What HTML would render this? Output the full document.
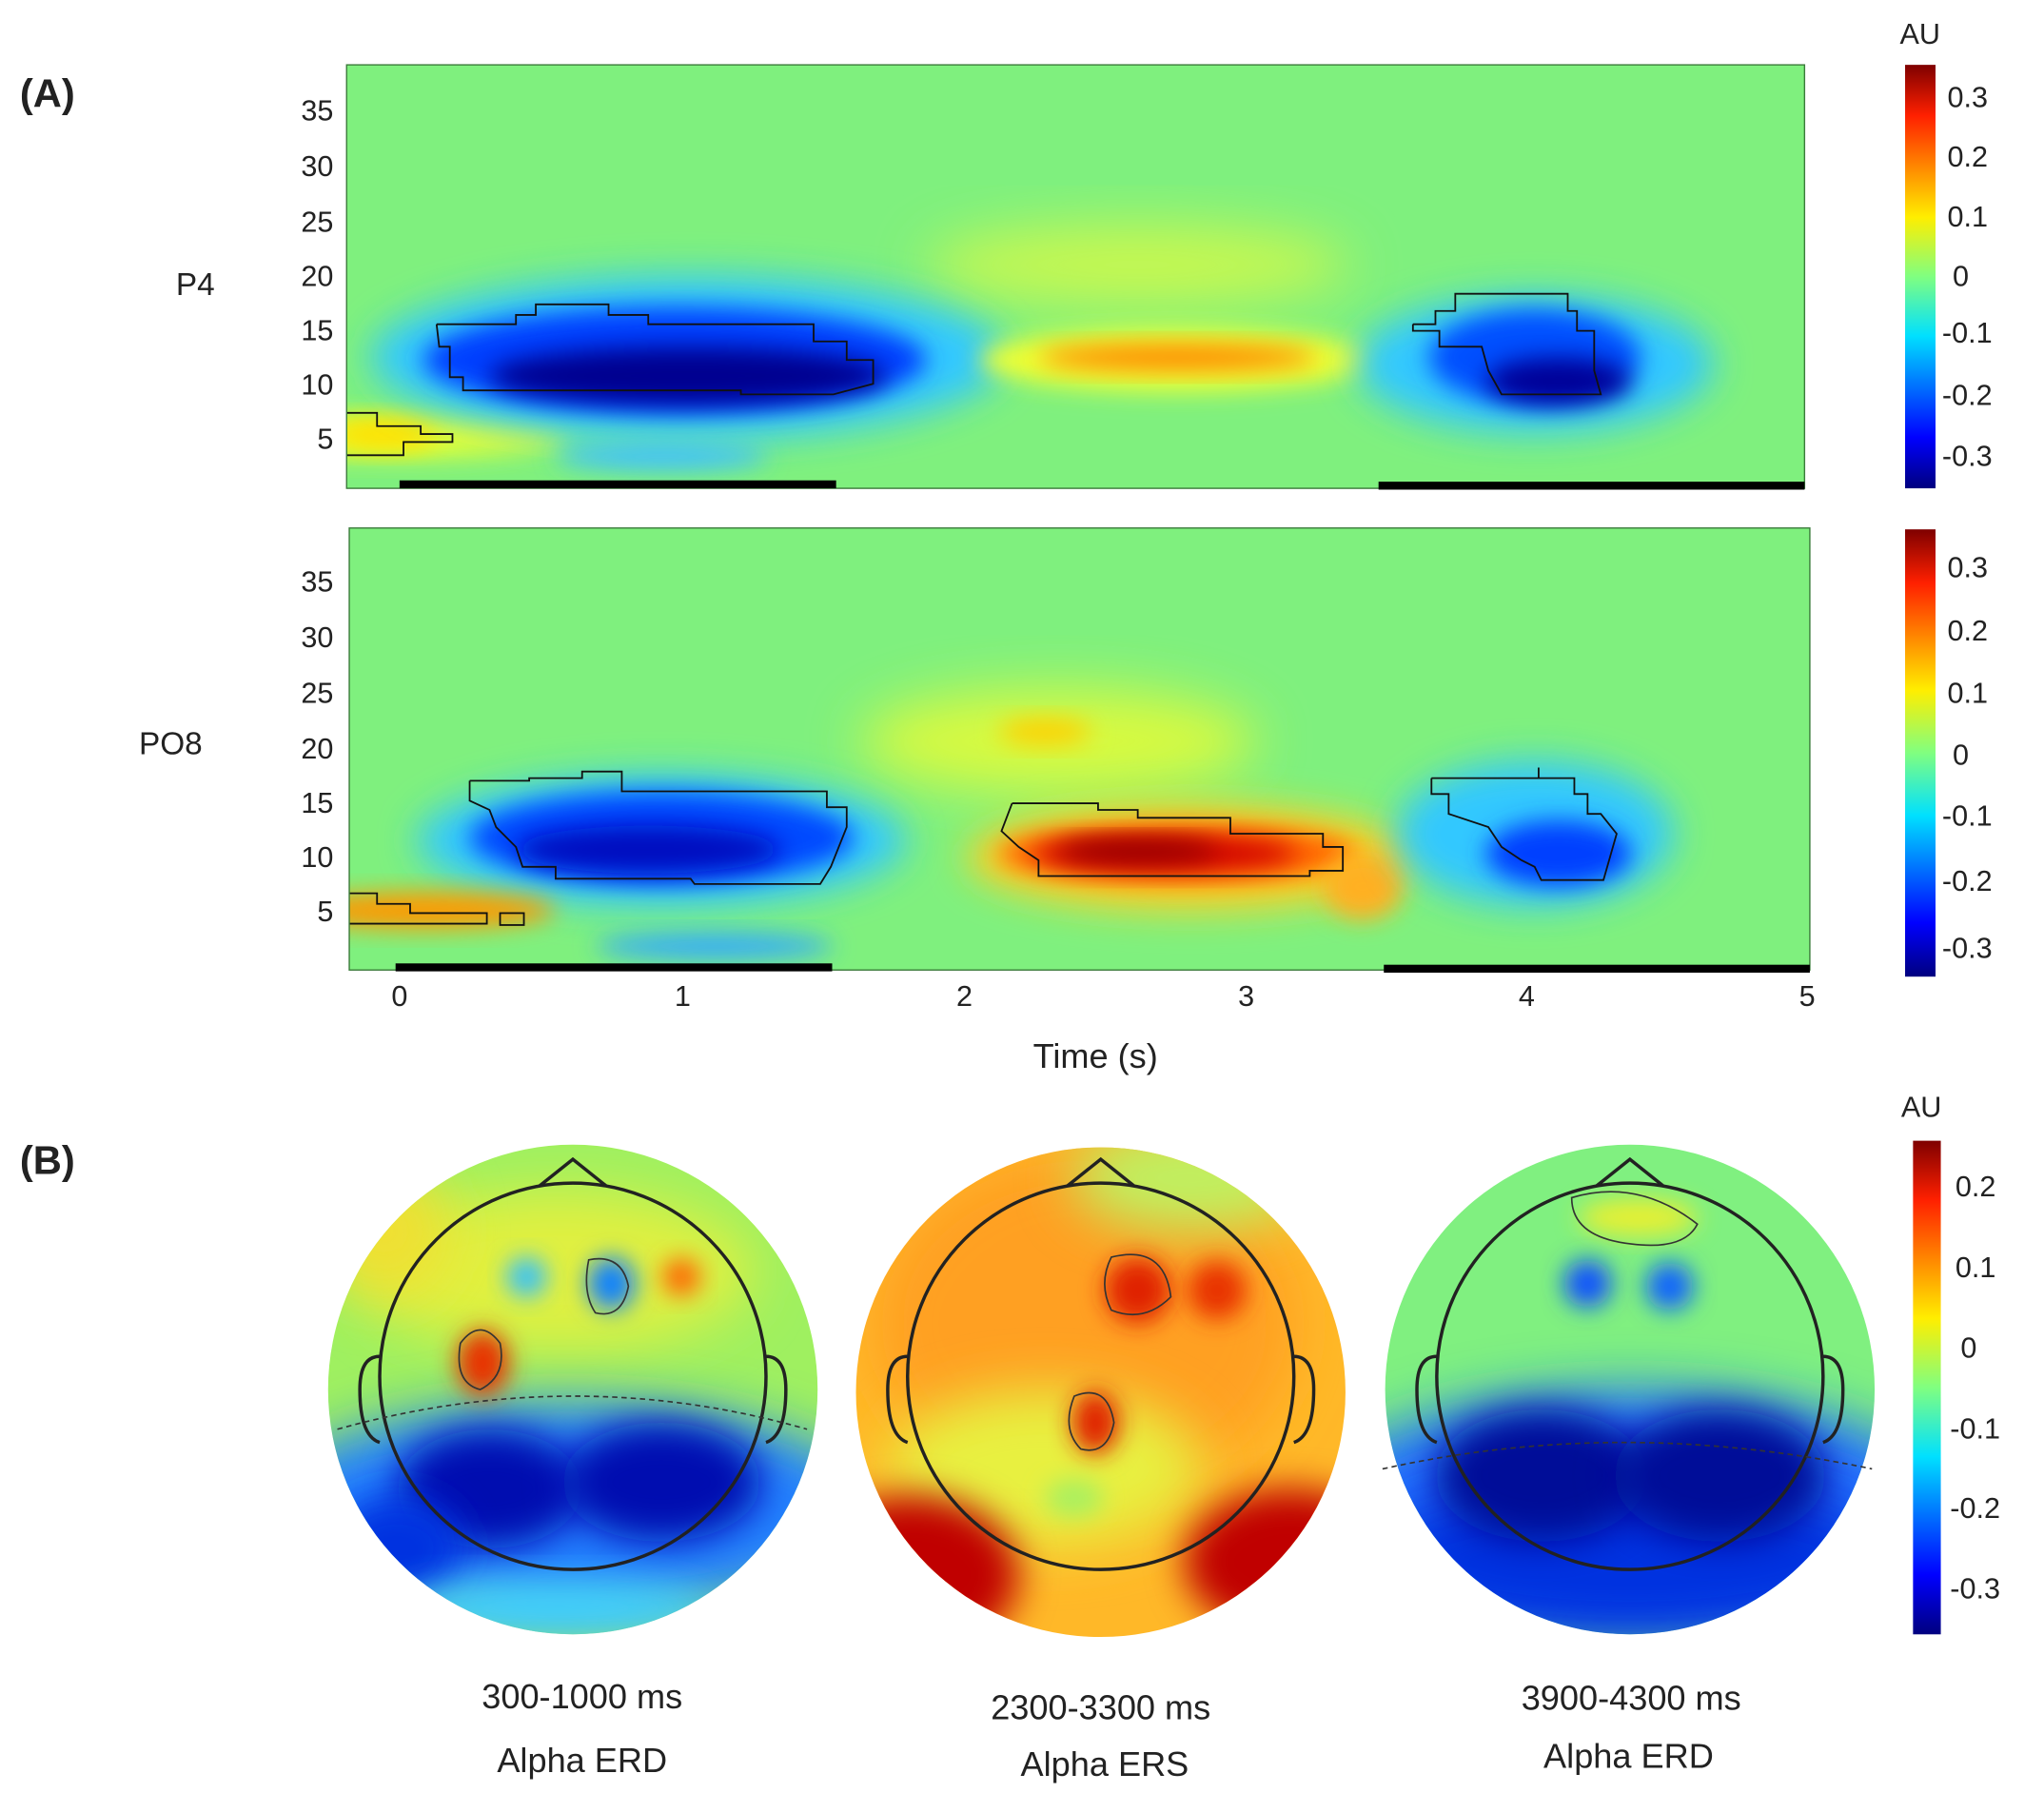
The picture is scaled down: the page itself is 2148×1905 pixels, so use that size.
<!DOCTYPE html>
<html><head><meta charset="utf-8"><style>
html,body{margin:0;padding:0;background:#fff;}
svg{display:block;}
text{font-family:"Liberation Sans",sans-serif;fill:#222;}
</style></head><body>
<svg width="2148" height="1905" viewBox="0 0 1545 1370" preserveAspectRatio="none" xmlns="http://www.w3.org/2000/svg">
<defs>
<filter id="b1" x="-50%" y="-50%" width="200%" height="200%"><feGaussianBlur stdDeviation="14"/></filter>
<filter id="b2" x="-50%" y="-50%" width="200%" height="200%"><feGaussianBlur stdDeviation="9"/></filter>
<filter id="b3" x="-50%" y="-50%" width="200%" height="200%"><feGaussianBlur stdDeviation="20"/></filter>
<clipPath id="c1"><rect x="262" y="49" width="1102" height="320"/></clipPath>
<clipPath id="c2"><rect x="264" y="399" width="1104" height="334"/></clipPath>
<clipPath id="h1"><circle cx="433" cy="1050" r="185"/></clipPath>
<clipPath id="h2"><circle cx="832" cy="1052" r="185"/></clipPath>
<clipPath id="h3"><circle cx="1232" cy="1050" r="185"/></clipPath>
<linearGradient id="jet" x1="0" y1="1" x2="0" y2="0">
<stop offset="0" stop-color="#00007f"/><stop offset="0.12" stop-color="#0000ff"/><stop offset="0.36" stop-color="#00e0ff"/><stop offset="0.5" stop-color="#80ff80"/><stop offset="0.64" stop-color="#ffee00"/><stop offset="0.88" stop-color="#ff2000"/><stop offset="1" stop-color="#7f0000"/>
</linearGradient>
</defs>

<text x="15" y="81" font-size="30" font-weight="bold">(A)</text>
<text x="15" y="887" font-size="30" font-weight="bold">(B)</text>

<!-- Top heatmap P4 -->
<g clip-path="url(#c1)">
<rect x="262" y="49" width="1102" height="320" fill="#7ff07e"/>
<ellipse cx="860" cy="200" rx="160" ry="30" fill="#c8f850" filter="url(#b3)"/>
<ellipse cx="300" cy="330" rx="130" ry="16" fill="#e8ff30" filter="url(#b2)"/>
<ellipse cx="290" cy="328" rx="40" ry="12" fill="#ffe000" filter="url(#b2)"/>
<ellipse cx="520" cy="270" rx="240" ry="62" fill="#30c8ff" filter="url(#b1)"/>
<ellipse cx="510" cy="272" rx="190" ry="40" fill="#0040ff" filter="url(#b2)"/>
<ellipse cx="520" cy="284" rx="150" ry="22" fill="#000090" filter="url(#b2)"/>
<ellipse cx="500" cy="345" rx="80" ry="10" fill="#40c0ff" filter="url(#b2)"/>
<ellipse cx="890" cy="272" rx="150" ry="24" fill="#f0ff30" filter="url(#b2)"/>
<ellipse cx="890" cy="270" rx="105" ry="10" fill="#ff8800" filter="url(#b2)"/>
<ellipse cx="1160" cy="275" rx="135" ry="52" fill="#30c8ff" filter="url(#b1)"/>
<ellipse cx="1160" cy="270" rx="80" ry="36" fill="#0050ff" filter="url(#b2)"/>
<ellipse cx="1178" cy="288" rx="55" ry="18" fill="#000098" filter="url(#b2)"/>
<polyline fill="none" stroke="#111" stroke-width="1.3" points="330,245 390,245 390,238 405,238 405,230 460,230 460,238 490,238 490,245 615,245 615,258 640,258 640,272 660,272 660,290 630,298 560,298 560,295 350,295 350,285 340,285 340,262 332,262 330,245"/>
<polyline fill="none" stroke="#111" stroke-width="1.3" points="1068,245 1085,245 1085,235 1100,235 1100,222 1185,222 1185,235 1192,235 1192,250 1205,250 1205,280 1210,298 1135,298 1125,280 1120,262 1088,262 1088,250 1068,250 1068,245"/>
<polyline fill="none" stroke="#111" stroke-width="1.3" points="262,312 285,312 285,322 318,322 318,328 342,328 342,334 305,334 305,344 262,344"/>
</g>
<rect x="262" y="49" width="1102" height="320" fill="none" stroke="#3a7a3a" stroke-width="1"/>
<rect x="302" y="363" width="330" height="6" fill="#000"/>
<rect x="1042" y="364" width="322" height="6" fill="#000"/>

<g font-size="22" text-anchor="end">
<text x="252" y="91">35</text><text x="252" y="133">30</text><text x="252" y="175">25</text><text x="252" y="216">20</text><text x="252" y="257">15</text><text x="252" y="298">10</text><text x="252" y="339">5</text>
<text x="252" y="447">35</text><text x="252" y="489">30</text><text x="252" y="531">25</text><text x="252" y="573">20</text><text x="252" y="614">15</text><text x="252" y="655">10</text><text x="252" y="696">5</text>
</g>
<text x="133" y="223" font-size="24">P4</text>
<text x="105" y="570" font-size="24">PO8</text>

<!-- Bottom heatmap PO8 -->
<g clip-path="url(#c2)">
<rect x="264" y="399" width="1104" height="334" fill="#7ff07e"/>
<ellipse cx="800" cy="560" rx="150" ry="40" fill="#d8fa40" filter="url(#b3)"/>
<ellipse cx="790" cy="553" rx="35" ry="10" fill="#ffd000" filter="url(#b2)"/>
<ellipse cx="500" cy="635" rx="185" ry="50" fill="#30c8ff" filter="url(#b1)"/>
<ellipse cx="500" cy="633" rx="145" ry="35" fill="#0048ff" filter="url(#b2)"/>
<ellipse cx="490" cy="642" rx="100" ry="18" fill="#0010c0" filter="url(#b2)"/>
<ellipse cx="900" cy="648" rx="170" ry="40" fill="#ffd020" filter="url(#b1)"/>
<ellipse cx="890" cy="645" rx="135" ry="22" fill="#ff6000" filter="url(#b2)"/>
<ellipse cx="880" cy="645" rx="100" ry="13" fill="#d00000" filter="url(#b2)"/>
<ellipse cx="860" cy="643" rx="60" ry="9" fill="#950000" filter="url(#b2)"/>
<ellipse cx="1030" cy="670" rx="30" ry="25" fill="#ffb020" filter="url(#b2)"/>
<ellipse cx="1160" cy="630" rx="105" ry="55" fill="#30c8ff" filter="url(#b1)"/>
<ellipse cx="1178" cy="645" rx="55" ry="25" fill="#0040ff" filter="url(#b2)"/>
<ellipse cx="320" cy="688" rx="100" ry="14" fill="#ff9900" filter="url(#b2)"/>
<ellipse cx="540" cy="715" rx="90" ry="10" fill="#30a8ff" filter="url(#b2)"/>
<polyline fill="none" stroke="#111" stroke-width="1.3" points="355,590 400,590 400,588 440,588 440,583 470,583 470,598 625,598 625,610 640,610 640,625 628,655 620,668 525,668 522,664 420,664 420,655 395,655 390,640 375,625 370,612 355,605 355,590"/>
<polyline fill="none" stroke="#111" stroke-width="1.3" points="765,607 830,607 830,612 860,612 860,618 930,618 930,630 1000,630 1000,640 1015,640 1015,658 990,658 990,662 785,662 785,650 770,640 757,628 765,607"/>
<polyline fill="none" stroke="#111" stroke-width="1.3" points="1082,588 1163,588 1163,580 1163,588 1190,588 1190,600 1200,600 1200,615 1210,615 1222,630 1212,665 1165,665 1160,655 1150,650 1135,640 1125,625 1095,615 1095,600 1082,600 1082,588"/>
<polyline fill="none" stroke="#111" stroke-width="1.3" points="264,675 285,675 285,683 310,683 310,690 368,690 368,698 264,698"/>
<rect x="378" y="690" width="18" height="9" fill="none" stroke="#111" stroke-width="1.3"/>
</g>
<rect x="264" y="399" width="1104" height="334" fill="none" stroke="#3a7a3a" stroke-width="1"/>
<rect x="299" y="728" width="330" height="6" fill="#000"/>
<rect x="1046" y="729" width="322" height="6" fill="#000"/>

<g font-size="22" text-anchor="middle">
<text x="302" y="760">0</text><text x="516" y="760">1</text><text x="729" y="760">2</text><text x="942" y="760">3</text><text x="1154" y="760">4</text><text x="1366" y="760">5</text>
<text x="828" y="807" font-size="26">Time (s)</text>
</g>

<!-- colorbars -->
<rect x="1440" y="49" width="23" height="320" fill="url(#jet)"/>
<rect x="1440" y="400" width="23" height="338" fill="url(#jet)"/>
<rect x="1446" y="862" width="21" height="373" fill="url(#jet)"/>
<g font-size="22">
<text x="1436" y="33">AU</text>
<text x="1472" y="81">0.3</text><text x="1472" y="126">0.2</text><text x="1472" y="171">0.1</text><text x="1476" y="216">0</text><text x="1468" y="259">-0.1</text><text x="1468" y="306">-0.2</text><text x="1468" y="352">-0.3</text>
<text x="1472" y="436">0.3</text><text x="1472" y="484">0.2</text><text x="1472" y="531">0.1</text><text x="1476" y="578">0</text><text x="1468" y="624">-0.1</text><text x="1468" y="673">-0.2</text><text x="1468" y="724">-0.3</text>
<text x="1437" y="844">AU</text>
<text x="1478" y="904">0.2</text><text x="1478" y="965">0.1</text><text x="1482" y="1026">0</text><text x="1474" y="1087">-0.1</text><text x="1474" y="1147">-0.2</text><text x="1474" y="1208">-0.3</text>
</g>

<!-- Head 1 -->
<g clip-path="url(#h1)">
<rect x="240" y="860" width="390" height="380" fill="#9ff060"/>
<ellipse cx="420" cy="960" rx="150" ry="60" fill="#e0f040" filter="url(#b3)"/>
<ellipse cx="290" cy="930" rx="50" ry="50" fill="#f0e030" filter="url(#b3)"/>
<ellipse cx="430" cy="1140" rx="230" ry="80" fill="#2080ff" filter="url(#b3)"/>
<ellipse cx="370" cy="1125" rx="70" ry="45" fill="#0010b0" filter="url(#b1)"/>
<ellipse cx="500" cy="1120" rx="75" ry="45" fill="#0010b0" filter="url(#b1)"/>
<ellipse cx="300" cy="1170" rx="50" ry="40" fill="#0030e0" filter="url(#b1)"/>
<ellipse cx="420" cy="1215" rx="120" ry="20" fill="#40d0ff" filter="url(#b1)"/>
<ellipse cx="365" cy="1030" rx="20" ry="25" fill="#e83000" filter="url(#b2)"/>
<ellipse cx="515" cy="965" rx="14" ry="14" fill="#ff6000" filter="url(#b2)"/>
<ellipse cx="398" cy="965" rx="15" ry="15" fill="#30c0ff" filter="url(#b2)"/>
<ellipse cx="462" cy="970" rx="18" ry="20" fill="#1080ff" filter="url(#b2)"/>
</g>
<!-- Head 2 -->
<g clip-path="url(#h2)">
<rect x="640" y="860" width="390" height="380" fill="#ffb828"/>
<ellipse cx="820" cy="1000" rx="160" ry="130" fill="#ffa020" filter="url(#b3)"/>
<ellipse cx="790" cy="1110" rx="120" ry="60" fill="#e8f040" filter="url(#b3)"/>
<ellipse cx="900" cy="890" rx="90" ry="40" fill="#c0f060" filter="url(#b3)"/>
<ellipse cx="690" cy="1190" rx="80" ry="60" fill="#c00000" filter="url(#b1)"/>
<ellipse cx="975" cy="1180" rx="80" ry="55" fill="#c00000" filter="url(#b1)"/>
<ellipse cx="860" cy="975" rx="25" ry="25" fill="#e02000" filter="url(#b2)"/>
<ellipse cx="920" cy="975" rx="22" ry="22" fill="#e83000" filter="url(#b2)"/>
<ellipse cx="828" cy="1075" rx="18" ry="24" fill="#e02000" filter="url(#b2)"/>
<ellipse cx="812" cy="1132" rx="22" ry="14" fill="#a8f060" filter="url(#b2)"/>
</g>
<!-- Head 3 -->
<g clip-path="url(#h3)">
<rect x="1040" y="860" width="390" height="380" fill="#80f080"/>
<ellipse cx="1232" cy="1140" rx="240" ry="90" fill="#2070ff" filter="url(#b3)"/>
<ellipse cx="1232" cy="1180" rx="200" ry="60" fill="#0030e0" filter="url(#b3)"/>
<ellipse cx="1165" cy="1115" rx="80" ry="50" fill="#000c98" filter="url(#b1)"/>
<ellipse cx="1300" cy="1115" rx="80" ry="50" fill="#000c98" filter="url(#b1)"/>
<ellipse cx="1238" cy="920" rx="45" ry="14" fill="#e8f030" filter="url(#b2)"/>
<ellipse cx="1200" cy="970" rx="18" ry="18" fill="#1050ff" filter="url(#b2)"/>
<ellipse cx="1262" cy="972" rx="18" ry="18" fill="#1060ff" filter="url(#b2)"/>
</g>

<!-- head outlines -->
<g fill="none" stroke="#222" stroke-width="2.5">
<circle cx="433" cy="1040" r="146"/>
<polyline points="408,896 433,876 458,896"/>
<path d="M287,1025 q-15,0 -15,25 q0,35 15,40"/>
<path d="M579,1025 q15,0 15,25 q0,35 -15,40"/>
<circle cx="832" cy="1040" r="146"/>
<polyline points="807,896 832,876 857,896"/>
<path d="M686,1025 q-15,0 -15,25 q0,35 15,40"/>
<path d="M978,1025 q15,0 15,25 q0,35 -15,40"/>
<circle cx="1232" cy="1040" r="146"/>
<polyline points="1207,896 1232,876 1257,896"/>
<path d="M1086,1025 q-15,0 -15,25 q0,35 15,40"/>
<path d="M1378,1025 q15,0 15,25 q0,35 -15,40"/>
</g>
<g fill="none" stroke="#333" stroke-width="1.2">
<path d="M348,1015 q15,-20 30,0 q5,25 -15,35 q-20,-5 -15,-35z"/>
<path d="M445,952 q25,-5 30,20 q-5,25 -25,20 q-10,-15 -5,-40z"/>
<path d="M1188,905 q50,-15 95,20 q-10,20 -50,15 q-45,-5 -45,-35z"/>
<path d="M840,950 q40,-10 45,30 q-20,20 -45,10 q-10,-20 0,-40z"/>
<path d="M812,1055 q25,-10 30,20 q-5,25 -25,20 q-15,-15 -5,-40z"/>
<path d="M1045,1110 q180,-40 370,0" stroke-dasharray="4,3"/>
<path d="M255,1080 q180,-50 355,0" stroke-dasharray="4,3"/>
</g>

<g font-size="26" text-anchor="middle">
<text x="440" y="1291">300-1000 ms</text><text x="440" y="1339">Alpha ERD</text>
<text x="832" y="1299">2300-3300 ms</text><text x="835" y="1342">Alpha ERS</text>
<text x="1233" y="1292">3900-4300 ms</text><text x="1231" y="1336">Alpha ERD</text>
</g>
</svg>
</body></html>
